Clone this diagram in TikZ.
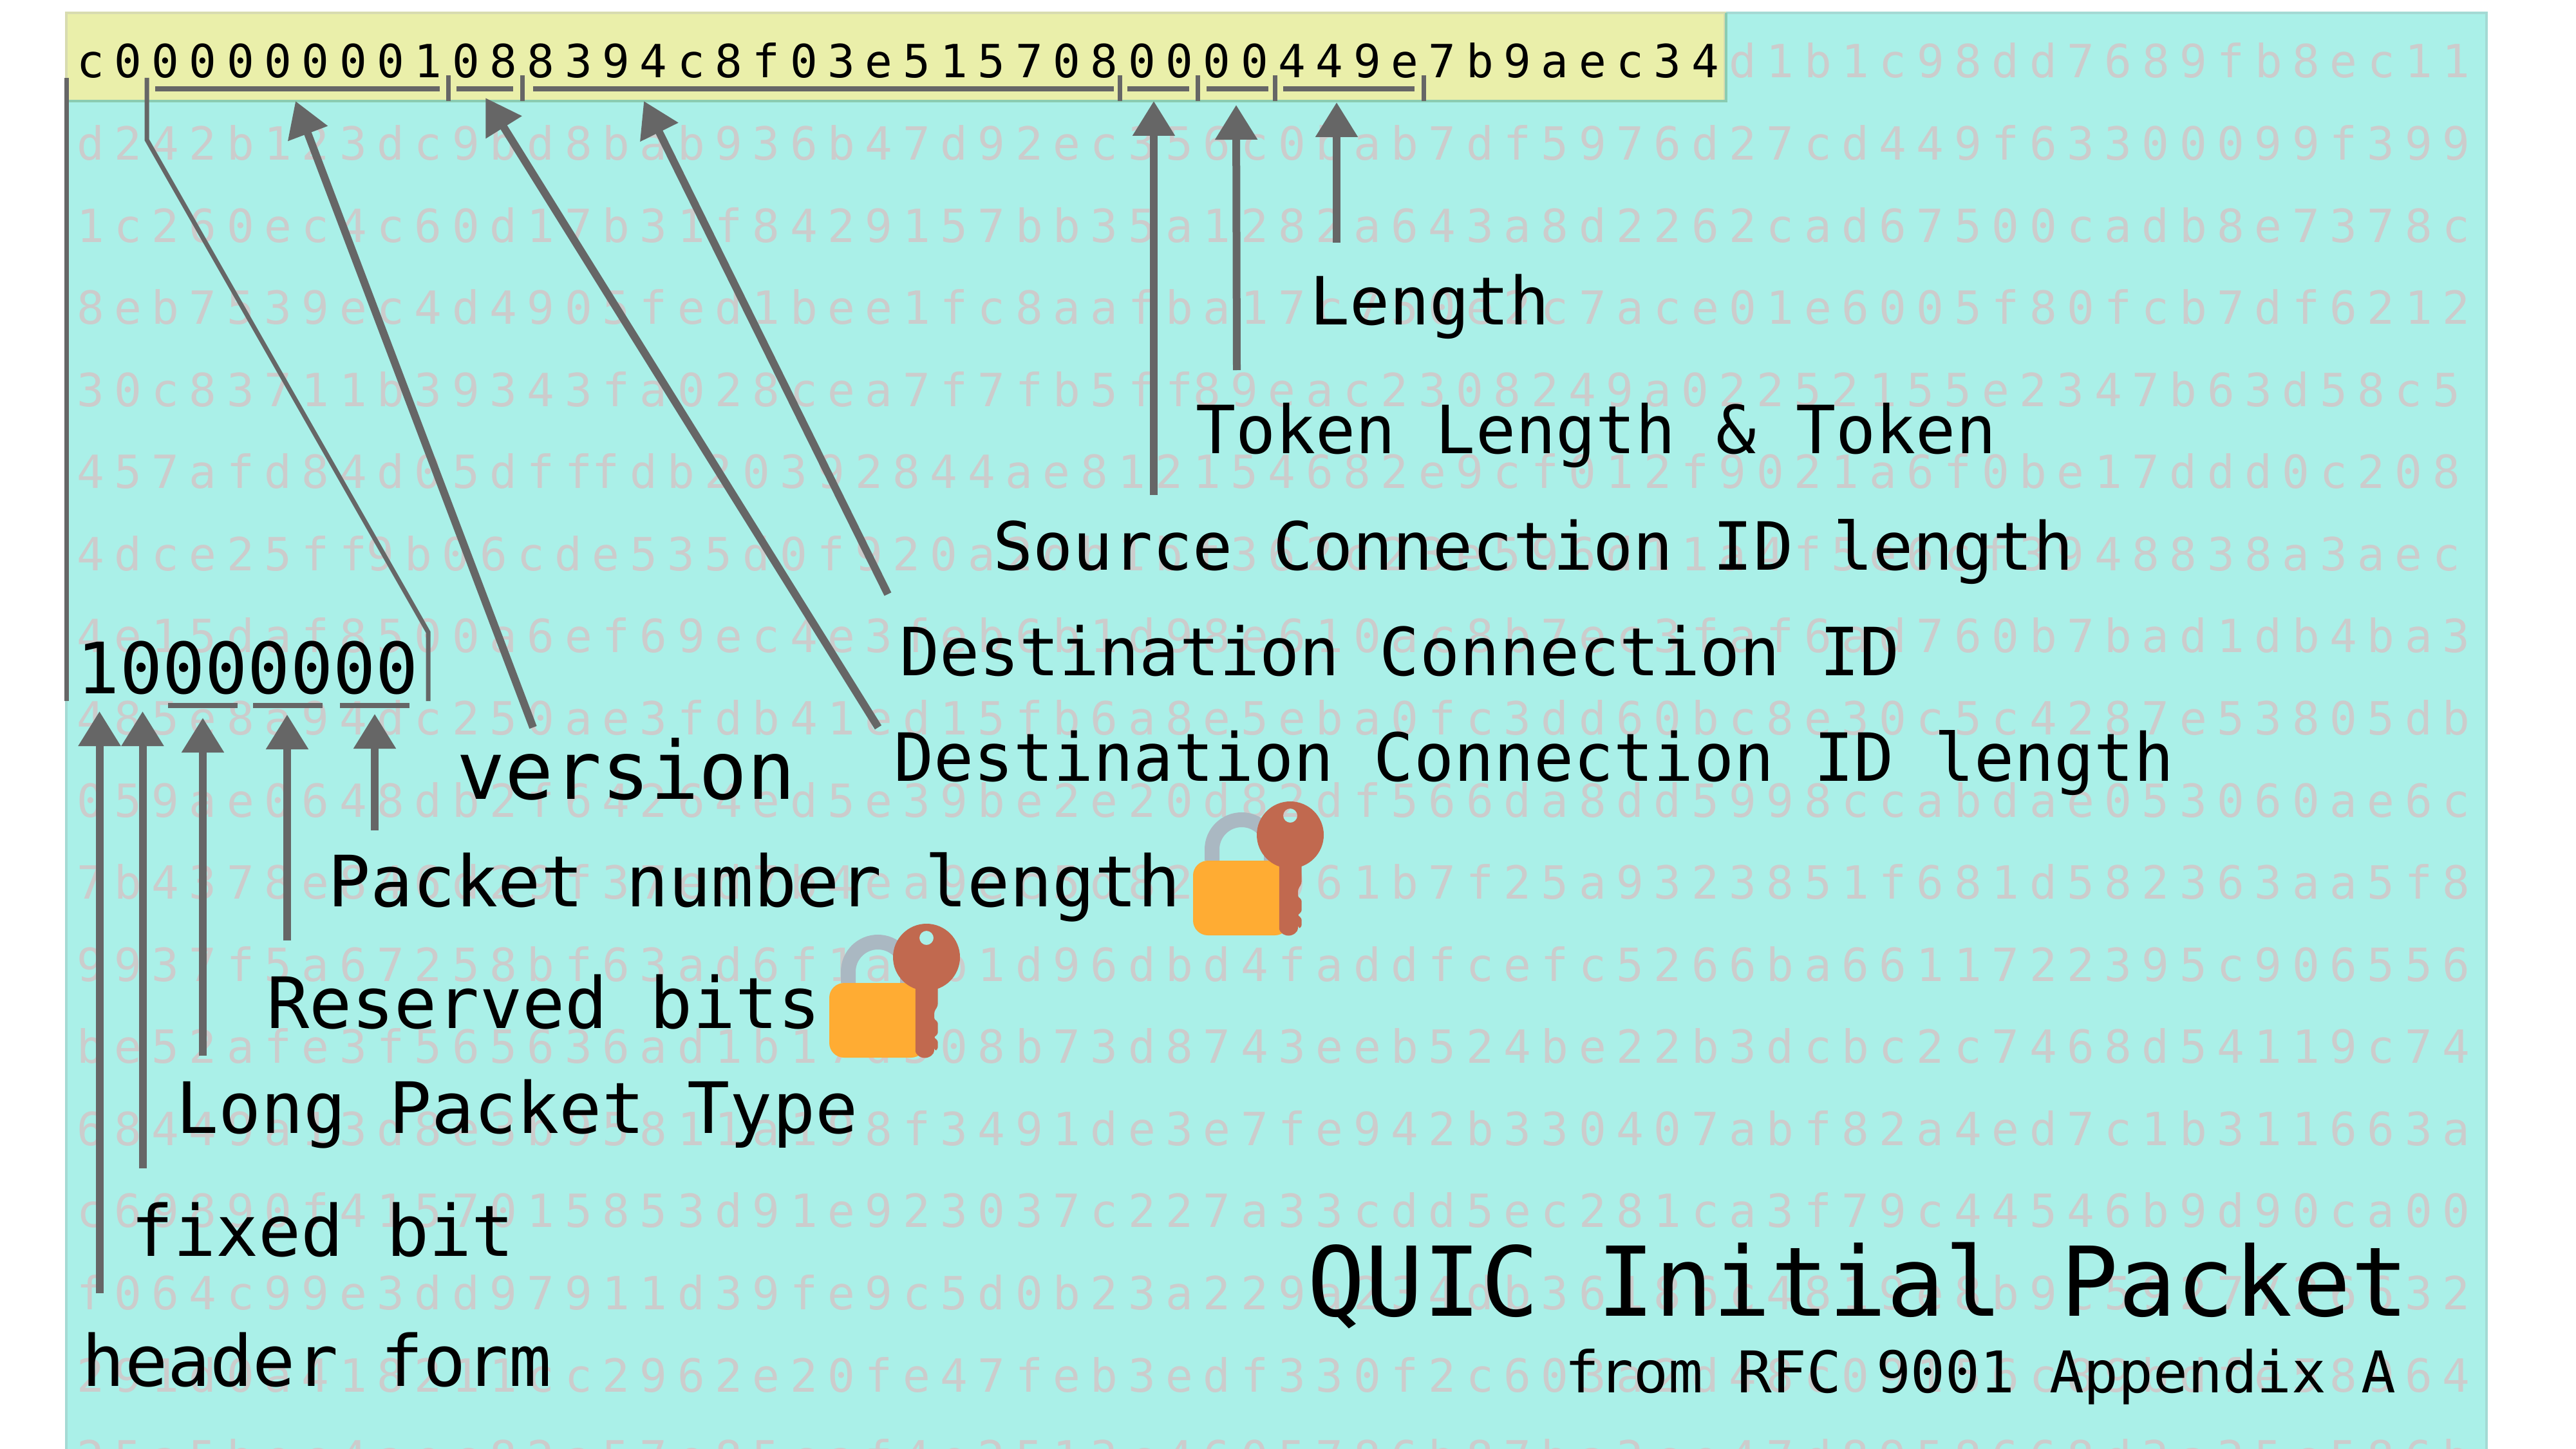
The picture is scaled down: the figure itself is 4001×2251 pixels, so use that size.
\documentclass[tikz,border=0pt]{standalone}
\usepackage{fontspec}
\setmainfont{DejaVu Sans Mono}
\newfontfamily\hexfont[LetterSpace=21.95]{DejaVu Sans Mono}
\usetikzlibrary{arrows.meta}
\definecolor{panelcol}{HTML}{AAF0E8}
\definecolor{panelline}{HTML}{A4DAD4}
\definecolor{yellowcol}{HTML}{EAEFAA}
\definecolor{yellowline}{HTML}{D8DCB0}
\definecolor{yellowedge}{HTML}{8ACCB2}
\definecolor{hexgrey}{HTML}{CCCCCC}
\definecolor{arrowgrey}{HTML}{666666}
\definecolor{shackle}{HTML}{AAB8C2}
\definecolor{lockbody}{HTML}{FFAC33}
\definecolor{keybody}{HTML}{C1694F}
\newcommand{\ffk}{\kern0pt}

\begin{document}
\begin{tikzpicture} [
            x=0.2pt,y=-0.2pt,
            hexrow/.style={anchor=base west,inner sep=0pt,text=hexgrey,font=\hexfont\fontsize{14.2pt}{14.2pt}\selectfont},
            lbl/.style={anchor=base west,inner sep=0pt,text=black,font=\fontsize{22pt}{22pt}\selectfont},
            lblsmall/.style={lbl,font=\fontsize{20.65pt}{20.65pt}\selectfont},
            outpt/.style={-{Triangle[length=10.8pt,width=12.6pt]},color=arrowgrey,line width=2.4pt},
            bar/.style={color=arrowgrey,line width=1.5pt},
            tick/.style={color=arrowgrey,line width=1.4pt},
            lockkey/.pic={
               \draw[color=shackle,line width=4.6pt] (29.5,0) -- (29.5,-17.5) arc (180:360:46) -- (121.5,0);
               \fill[color=lockbody,rounded corners=4.6pt] (0,0) rectangle (150,116);
               \fill[color=keybody,even odd rule] (151,-40) circle [radius=52] (151,-70) circle [radius=11];
               \fill[color=keybody,rounded corners=0.8pt] (133.8,0) -- (168.7,0) -- (168.7,36) -- (163,44) -- (163,58) -- (168.7,59) -- (168.7,81) -- (163,82) -- (163,87) -- (168.7,88) -- (168.7,104) -- (162.8,105) -- (162.8,102) arc (0:180:14.5) -- cycle;
            }]
\useasboundingbox (0,0) rectangle (4001,2251);

%panel
\path[fill=panelcol,draw=panelline,line width=0.8pt] (103,20) rectangle (3862,2300);
\path[fill=yellowcol,draw=yellowline,line width=0.8pt] (103,20) rectangle (2679,157);
\draw[color=yellowedge,line width=0.8pt] (103,157) -- (2681,157) -- (2681,20);

%hex rows
\node[hexrow] (row1) at (118,121) {{\color{black}c000000001088394c8f03e5157080000449e7b9aec34}\kern3.12pt d1b1c98dd7689fb8ec11};
\node[hexrow] (row2) at (118,248.6) {d242b123dc9bd8bab936b47d92ec356c0bab7df5976d27cd449f63300099f399};
\node[hexrow] (row3) at (118,376.1) {1c260ec4c60d17b31f8429157bb35a1282a643a8d2262cad67500cadb8e7378c};
\node[hexrow] (row4) at (118,503.7) {8eb7539ec4d4905fed1bee1fc8aafba17c750e2c7ace01e6005f80fcb7df6212};
\node[hexrow] (row5) at (118,631.2) {30c83711b39343fa028cea7f7fb5ff\ffk 89eac2308249a02252155e2347b63d58c5};
\node[hexrow] (row6) at (118,758.8) {457afd84d05dff\ffk fdb20392844ae812154682e9cf012f9021a6f0be17ddd0c208};
\node[hexrow] (row7) at (118,886.4) {4dce25ff\ffk 9b06cde535d0f920a2db1bf362c23e596d11a4f5e6cf3948838a3aec};
\node[hexrow] (row8) at (118,1013.9) {4e15daf8500a6ef69ec4e3feb6b1d98e610ac8b7ec3faf6ad760b7bad1db4ba3};
\node[hexrow] (row9) at (118,1141.5) {485e8a94dc250ae3fdb41ed15fb6a8e5eba0fc3dd60bc8e30c5c4287e53805db};
\node[hexrow] (row10) at (118,1269) {059ae0648db2f64264ed5e39be2e20d82df566da8dd5998ccabdae053060ae6c};
\node[hexrow] (row11) at (118,1396.6) {7b4378e846d29f37ed7b4ea9ec5d82e7961b7f25a9323851f681d582363aa5f8};
\node[hexrow] (row12) at (118,1524.2) {9937f5a67258bf63ad6f1a0b1d96dbd4faddfcefc5266ba6611722395c906556};
\node[hexrow] (row13) at (118,1651.7) {be52afe3f565636ad1b17d508b73d8743eeb524be22b3dcbc2c7468d54119c74};
\node[hexrow] (row14) at (118,1779.3) {68449a13d8e3b95811a198f3491de3e7fe942b330407abf82a4ed7c1b311663a};
\node[hexrow] (row15) at (118,1906.8) {c69890f4157015853d91e923037c227a33cdd5ec281ca3f79c44546b9d90ca00};
\node[hexrow] (row16) at (118,2034.4) {f064c99e3dd97911d39fe9c5d0b23a229a234db36186c4819e8b9c5927726632};
\node[hexrow] (row17) at (118,2162) {291d0a418211cc2962e20fe47feb3edf330f2c603a2d48c09156c89bdfe58964};
\node[hexrow] (row18) at (118,2289.5) {25a5bec4aec82a57e85caf4e2513c4605786b87ba3ce47d8958668d3a35c586b};

%bars under the first row
\draw[bar] (241,138) -- (683,138);
\draw[bar] (709,138) -- (797,138);
\draw[bar] (828,138) -- (1730,138);
\draw[bar] (1751,138) -- (1847,138);
\draw[bar] (1874,138) -- (1970,138);
\draw[bar] (1993,138) -- (2197,138);
\draw[tick] (696,117) -- (696,157);
\draw[tick] (811,117) -- (811,157);
\draw[tick] (1739,117) -- (1739,157);
\draw[tick] (1860,117) -- (1860,157);
\draw[tick] (1980,117) -- (1980,157);
\draw[tick] (2211,117) -- (2211,157);

%first byte
\node[lbl,font=\fontsize{22pt}{22pt}\selectfont] (bits) at (119,1077.5) {10000000};
\draw[tick] (103,121) -- (103,1089);
\draw[tick] (228,121) -- (228,217) -- (665,982) -- (665,1089);
\draw[bar] (261,1096) -- (369,1096);
\draw[bar] (393,1096) -- (501,1096);
\draw[bar] (528,1096) -- (636,1096);

%labels
\node[lblsmall] (length) at (2033,505) {Length};
\node[lblsmall] (token) at (1856,704) {Token Length \& Token};
\node[lblsmall] (scil) at (1541,885) {Source Connection ID length};
\node[lblsmall] (dci) at (1396,1049.5) {Destination Connection ID};
\node[lblsmall] (dcil) at (1387,1213) {Destination Connection ID length};
\node[lbl,font=\fontsize{25pt}{25pt}\selectfont] (version) at (708,1241) {version};
\node[lbl] (pnl) at (508,1408) {Packet number length};
\node[lbl] (reserved) at (413,1597) {Reserved bits};
\node[lbl] (lpt) at (272,1760) {Long Packet Type};
\node[lbl] (fixed) at (202,1951.5) {fixed bit};
\node[lbl] (hform) at (127,2153) {header form};
\node[lbl,font=\fontsize{29.92pt}{29.92pt}\selectfont] (title) at (2029,2044) {QUIC Initial Packet};
\node[lbl,font=\fontsize{17.87pt}{17.87pt}\selectfont] (source) at (2429,2163) {from RFC 9001 Appendix A};

%arrows to the first row
\coordinate (tipver) at (459,157);
\coordinate (tailver) at (828,1130);
\coordinate (tipdcil) at (754,152);
\coordinate (taildcil) at (1364,1130);
\coordinate (tipdci) at (1000,157);
\coordinate (taildci) at (1379,923);
\coordinate (tipscil) at (1792,157);
\coordinate (tailscil) at (1792,769);
\coordinate (tiptoken) at (1920,163);
\coordinate (tailtoken) at (1921,575);
\coordinate (tiplen) at (2076,159);
\coordinate (taillen) at (2076,377);
\draw[outpt] (tailver) -- (tipver);
\draw[outpt] (taildcil) -- (tipdcil);
\draw[outpt] (taildci) -- (tipdci);
\draw[outpt] (tailscil) -- (tipscil);
\draw[outpt] (tailtoken) -- (tiptoken);
\draw[outpt] (taillen) -- (tiplen);

%arrows to the first byte
\coordinate (tiphf) at (154.5,1105);
\coordinate (tailhf) at (154.5,2009);
\coordinate (tipfix) at (221.5,1105);
\coordinate (tailfix) at (221.5,1815);
\coordinate (tiplpt) at (315,1115);
\coordinate (taillpt) at (315,1640);
\coordinate (tipres) at (446,1110);
\coordinate (tailres) at (446,1461);
\coordinate (tippnl) at (582,1109);
\coordinate (tailpnl) at (582,1290);
\draw[outpt] (tailhf) -- (tiphf);
\draw[outpt] (tailfix) -- (tipfix);
\draw[outpt] (taillpt) -- (tiplpt);
\draw[outpt] (tailres) -- (tipres);
\draw[outpt] (tailpnl) -- (tippnl);

%locks
\pic (lockone) at (1853,1337) {lockkey};
\pic (locktwo) at (1288,1527) {lockkey};

\end{tikzpicture}
\end{document}
